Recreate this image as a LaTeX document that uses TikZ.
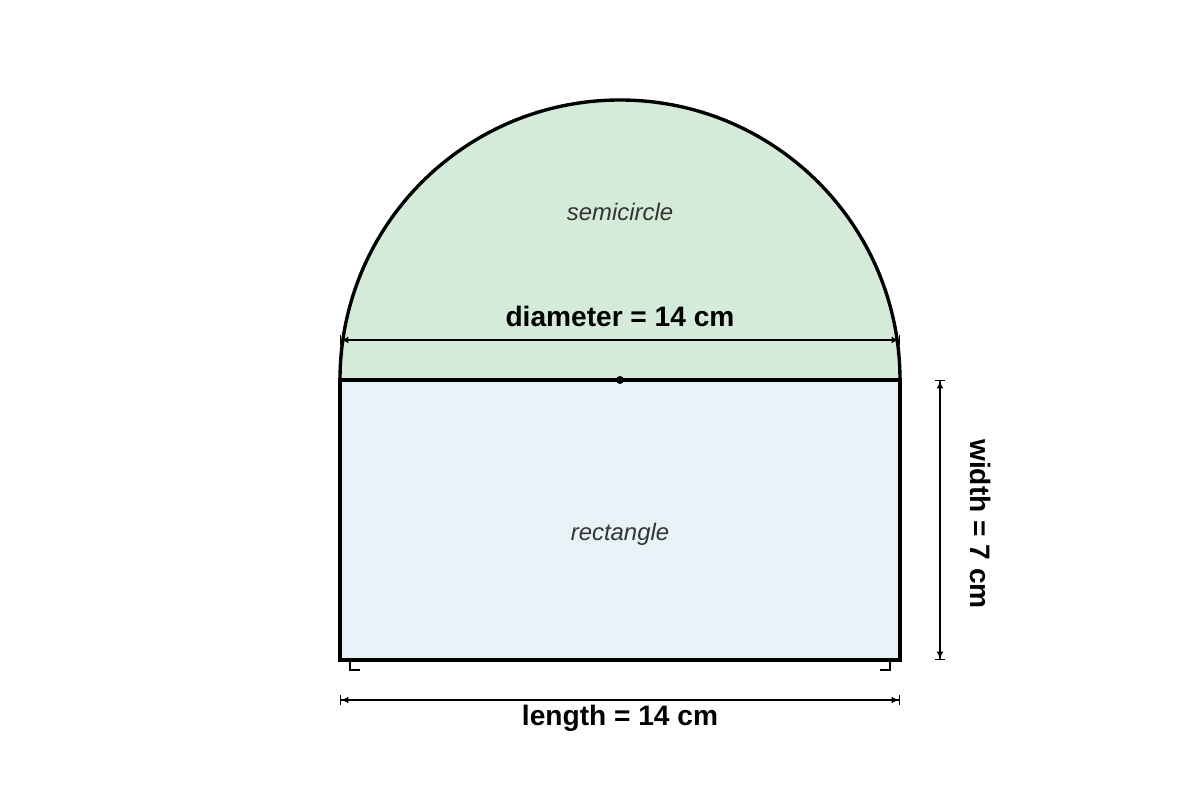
\documentclass[tikz,border=0pt]{standalone}
\usepackage{fontspec}
\setmainfont{Liberation Sans}
\usetikzlibrary{positioning,arrows.meta}

\definecolor{semigreen}{HTML}{D4EBDA}
\definecolor{rectblue}{HTML}{E8F3F8}
\definecolor{labelgray}{HTML}{333333}

\begin{document}
\begin{tikzpicture}[
    outline/.style={draw=black,line width=2.4pt},
    dim/.style={line width=1pt,{Bar[width=7pt]Latex[length=5pt,width=5pt]}-{Latex[length=5pt,width=5pt]Bar[width=7pt]}},
    dimtext/.style={font=\fontsize{20}{24}\selectfont\bfseries},
    areatext/.style={font=\fontsize{17}{20}\selectfont\itshape,text=labelgray}
  ]
        \useasboundingbox (-15.5,-10.5) rectangle (14.5,9.5);
        \fill [semigreen] (-7,0) arc (180:0:7) -- cycle;
        \fill [rectblue] (-7,-7) rectangle (7,0);
        \draw [outline] (-7,0) arc (180:0:7);
        \draw [outline] (-7,-7) rectangle (7,0);
        \node [circle,fill,inner sep=0pt,minimum size=0.2cm] at (0,0) (o){};

        \coordinate (dl) at (-7,1);
        \coordinate (dr) at (7,1);
        \coordinate (wt) at (8,0);
        \coordinate (wb) at (8,-7);
        \coordinate (ll) at (-7,-8);
        \coordinate (lr) at (7,-8);

        \draw [dim] (dl) -- (dr);
        \draw [dim] (wt) -- (wb);
        \draw [dim] (ll) -- (lr);

        \draw [line width=1pt] (-6.75,-7) -- (-6.75,-7.25) -- (-6.5,-7.25);
        \draw [line width=1pt] (6.75,-7) -- (6.75,-7.25) -- (6.5,-7.25);

        \node [dimtext] at (0,1.6) (diam){diameter = 14 cm};
        \node [dimtext,rotate=-90] at (9.02,-3.6) (wid){width = 7 cm};
        \node [dimtext] at (0,-8.45) (len){length = 14 cm};
        \node [areatext] at (0,4.2) (semi){semicircle};
        \node [areatext] at (0,-3.85) (rect){rectangle};
      \end{tikzpicture}
\end{document}
